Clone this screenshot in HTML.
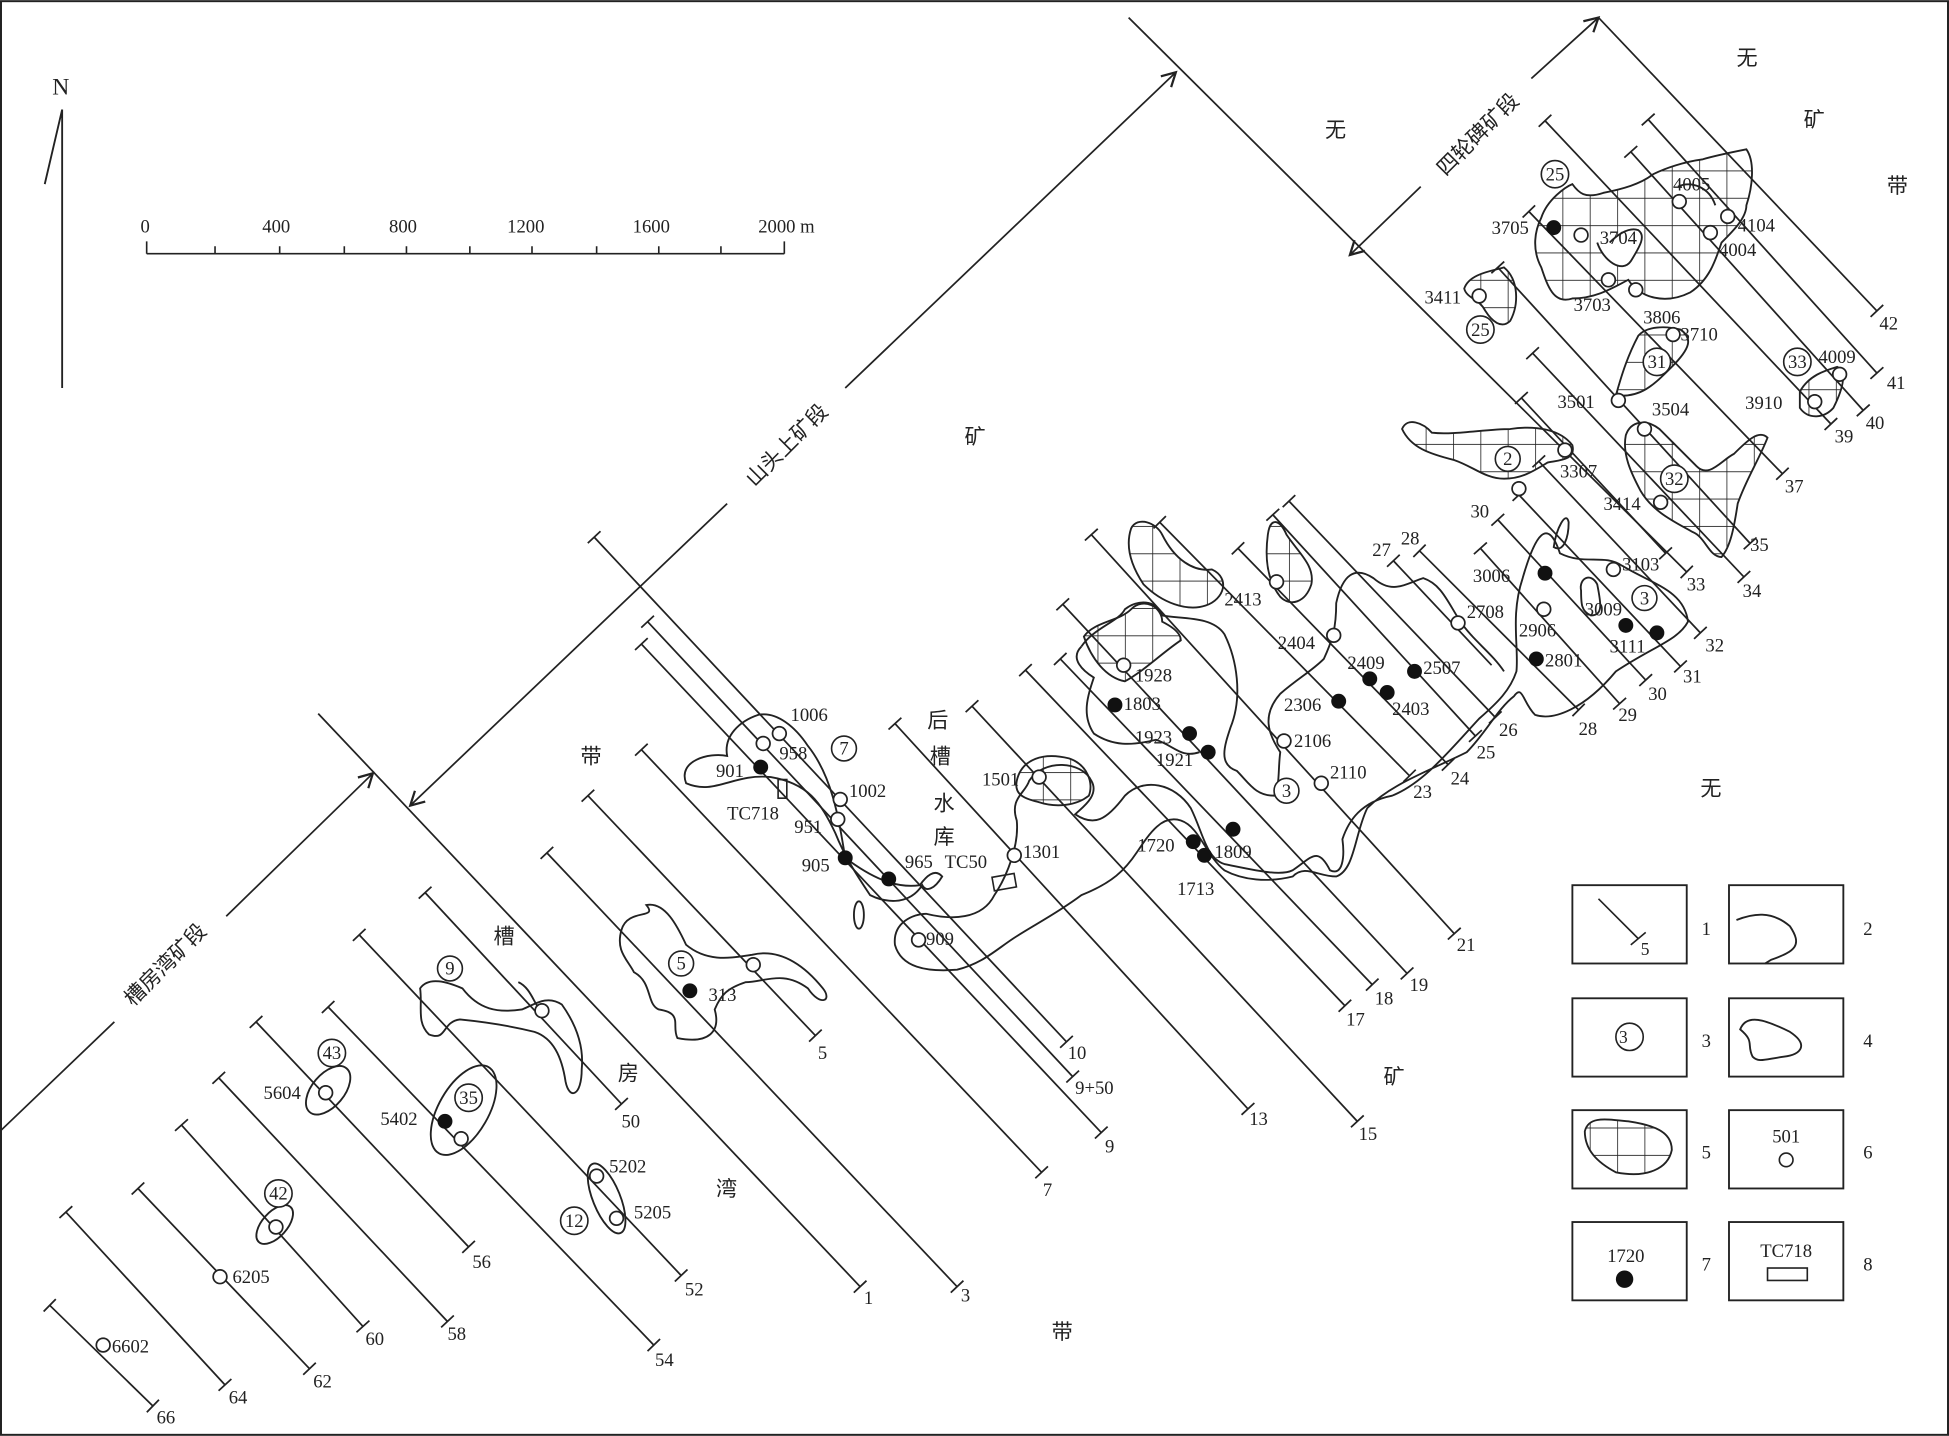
<!DOCTYPE html>
<html><head><meta charset="utf-8"><style>
html,body{margin:0;padding:0;background:#fff}
svg{display:block}
text{font-family:"Liberation Serif","Noto Serif CJK SC",serif;font-size:15px;fill:#222}
.cn{font-family:"Liberation Sans","Noto Sans CJK SC",sans-serif;font-size:17px}
</style></head><body>
<svg width="1949" height="1436" viewBox="0 0 1568 1155" xmlns="http://www.w3.org/2000/svg">
<defs>
<marker id="t" markerUnits="userSpaceOnUse" markerWidth="16" markerHeight="16" viewBox="-8 -8 16 16" refX="0" refY="0" orient="auto"><path d="M0,-7 L0,7" stroke="#222" stroke-width="1.4"/></marker>
<marker id="a" markerUnits="userSpaceOnUse" markerWidth="20" markerHeight="20" viewBox="-12 -10 20 20" refX="0" refY="0" orient="auto"><path d="M-11,-6 L0,0 L-11,6" fill="none" stroke="#222" stroke-width="1.8"/></marker>
<pattern id="g" patternUnits="userSpaceOnUse" width="22" height="22" x="3" y="5"><path d="M0,0 H22 M0,0 V22" stroke="#222" stroke-width="1.3" fill="none"/></pattern>
</defs>
<rect x="0.8" y="0.8" width="1566.4" height="1153.4" fill="#fff" stroke="#222" stroke-width="1.6"/>

<!-- north arrow -->
<g stroke="#222" stroke-width="1.5" fill="none">
<path d="M50,88 V312 M50,88 L36,148"/>
</g>
<text x="42" y="76" style="font-size:19px">N</text>

<!-- scale bar -->
<g stroke="#222" stroke-width="1.3" fill="none">
<path d="M118,204 H631 M118,204 V194 M173,204 V198 M225,204 V198 M277,204 V198 M327,204 V198 M378,204 V198 M428,204 V198 M480,204 V198 M530,204 V198 M580,204 V198 M631,204 V194"/>
</g>
<text x="113" y="187">0</text><text x="211" y="187">400</text><text x="313" y="187">800</text>
<text x="408" y="187">1200</text><text x="509" y="187">1600</text><text x="610" y="187">2000 m</text>

<!-- exploration lines -->
<g stroke="#222" stroke-width="1.4" fill="none" marker-start="url(#t)" marker-end="url(#t)">
<path d="M40,1050 L123,1131"/>
<path d="M53,975 L181,1114"/>
<path d="M111,956 L249,1101"/>
<path d="M146,905 L292,1067"/>
<path d="M176,867 L360,1063"/>
<path d="M206,822 L377,1003"/>
<path d="M264,810 L526,1082"/>
<path d="M289,752 L548,1026"/>
<path d="M342,718 L500,888"/>
<path d="M440,686 L770,1035"/>
<path d="M473,640 L656,833"/>
<path d="M516,603 L838,943"/>
<path d="M478,432 L858,838"/>
<path d="M521,500 L863,866"/>
<path d="M516,518 L886,911"/>
<path d="M720,582 L1004,892"/>
<path d="M782,568 L1092,902"/>
<path d="M825,539 L1082,809"/>
<path d="M853,530 L1104,792"/>
<path d="M855,486 L1132,783"/>
<path d="M878,430 L1170,751"/>
<path d="M933,420 L1134,624"/>
<path d="M996,441 L1165,615"/>
<path d="M1024,414 L1187,592"/>
<path d="M1037,403 L1203,577"/>
<path d="M1142,443 L1270,571"/>
<path d="M1191,441 L1303,566"/>
<path d="M1205,418 L1324,547"/>
<path d="M1222,398 L1352,536"/>
<path d="M1238,371 L1368,509"/>
<path d="M1233,284 L1403,464"/>
<path d="M1205,215 L1408,437"/>
<path d="M1230,170 L1434,381"/>
<path d="M1243,97 L1473,341"/>
<path d="M1312,122 L1499,330"/>
<path d="M1326,96 L1510,300"/>
<path d="M1224,320 L1340,445"/>
</g>
<g stroke="#222" stroke-width="1.4" fill="none" marker-end="url(#t)">
<path d="M256,574 L692,1035"/>
<path d="M908,14 L1357,460"/>
<path d="M1286,14 L1510,250"/>
</g>
<g stroke="#222" stroke-width="1.4" fill="none">
<path d="M1121,451 L1200,535" marker-start="url(#t)"/>
</g>

<!-- dimension lines -->
<g stroke="#222" stroke-width="1.4" fill="none">
<path d="M0,910 L92,822"/><path d="M182,737 L300,622" marker-end="url(#a)"/>
<path d="M585,405 L330,648" marker-end="url(#a)"/><path d="M680,312 L946,58" marker-end="url(#a)"/>
<path d="M1143,150 L1086,205" marker-end="url(#a)"/><path d="M1232,63 L1286,14" marker-end="url(#a)"/>
</g>
<text class="cn" transform="translate(137,780) rotate(-45)" text-anchor="middle">槽房湾矿段</text>
<text class="cn" transform="translate(637,362) rotate(-45)" text-anchor="middle">山头上矿段</text>
<text class="cn" transform="translate(1193,112) rotate(-45)" text-anchor="middle">四轮碑矿段</text>

<!-- ore body outlines -->
<g stroke="#222" stroke-width="1.5" fill="none">
<!-- 5 area -->
<path d="M500,748 C505,730 530,740 520,728 C535,725 545,745 552,760 C570,775 590,770 605,768 C630,762 650,780 662,795 C670,805 660,810 650,795 C630,780 615,790 600,790 C585,795 580,800 575,812 C580,830 570,840 545,835 C540,825 550,815 530,812 C520,808 525,790 510,782 C505,772 495,765 500,748Z"/>
<!-- 9 area -->
<path d="M338,795 C345,785 360,790 372,795 C385,812 400,815 420,812 C430,808 440,800 452,808 C462,822 470,840 468,860 C468,882 458,885 455,870 C452,850 445,835 430,830 C410,825 390,822 370,820 C355,822 360,838 345,832 C335,822 340,810 338,795Z"/>
<path d="M417,790 C428,795 430,810 436,813"/>
<ellipse cx="373" cy="893" rx="20" ry="40" transform="rotate(30 373 893)"/>
<ellipse cx="264" cy="877" rx="13" ry="23" transform="rotate(40 264 877)"/>
<ellipse cx="221" cy="985" rx="10" ry="19" transform="rotate(42 221 985)"/>
<ellipse cx="488" cy="964" rx="11" ry="30" transform="rotate(-22 488 964)"/>
<!-- 901 blob -->
<path d="M552,630 C545,612 570,605 585,608 C582,592 595,580 610,575 C625,572 640,585 650,600 C670,625 675,660 680,690 C700,705 720,715 740,712 C745,705 752,698 758,705 C752,715 745,718 742,712 C730,730 710,725 700,720 C690,705 680,690 672,670 C660,645 650,630 620,625 C590,622 575,640 552,630Z"/>
<ellipse cx="691" cy="736" rx="4" ry="11"/>
<!-- long middle blob -->
<path d="M720,760 C718,742 735,735 745,735 C765,740 790,740 800,720 C810,705 820,680 818,660 C812,642 825,638 828,628 C840,610 870,612 878,628 C885,640 870,650 865,655 C880,665 890,660 905,640 C920,625 945,630 958,650 C968,670 970,690 985,695 C1010,700 1030,705 1040,700 C1055,690 1060,680 1070,700 C1080,705 1082,690 1080,675 C1085,660 1095,645 1120,640 C1145,630 1165,605 1190,578 C1205,565 1215,555 1220,540 C1222,520 1215,495 1225,465 C1235,430 1245,415 1255,445 C1275,455 1290,445 1305,455 C1330,470 1355,475 1358,500 C1350,515 1330,520 1300,540 C1275,570 1250,580 1235,575 C1225,565 1225,550 1218,560 C1205,570 1195,590 1180,605 C1150,620 1120,630 1100,650 C1090,670 1090,700 1075,705 C1060,705 1050,695 1040,705 C1020,710 1000,708 985,700 C970,688 965,665 950,660 C935,655 925,670 915,685 C905,700 895,710 870,720 C850,735 830,745 815,755 C800,765 790,775 770,780 C745,782 725,778 720,760Z"/>
<path d="M870,520 C880,505 900,500 905,490 C915,482 930,482 935,495 C950,498 975,495 985,510 C995,530 1000,560 990,585 C985,600 980,615 995,620 C1005,630 1010,640 1025,640 C1030,630 1028,620 1030,605 C1020,590 1015,575 1030,558 C1045,545 1055,540 1065,530 C1072,515 1075,505 1075,485 C1080,462 1090,455 1105,465 C1120,478 1130,470 1145,465 C1160,470 1165,485 1175,500 C1185,515 1200,525 1210,540"/>
<path d="M870,520 C860,530 872,540 880,545 C875,560 870,575 880,590 C895,600 910,600 930,595 C945,600 950,610 965,605"/>
<path d="M1272,475 C1270,465 1280,460 1285,470 C1288,485 1290,495 1280,495 C1272,492 1272,485 1272,475Z"/>
<path d="M1250,440 C1252,425 1260,410 1262,420 C1262,432 1258,445 1250,440Z"/>
<!-- hatched blobs -->
<g fill="url(#g)">
<path d="M910,425 C915,415 930,420 935,430 C945,450 960,460 975,458 C990,465 985,482 970,487 C955,492 935,485 920,470 C910,455 905,440 910,425Z"/>
<path d="M872,512 C880,500 900,500 910,490 C920,480 935,488 935,500 C945,505 950,510 950,515 C935,525 920,540 905,548 C890,545 878,530 872,512Z"/>
<path d="M818,628 C822,610 840,605 860,610 C875,615 880,630 876,640 C866,648 850,650 835,645 C822,642 816,638 818,628Z"/>
<path d="M1020,430 C1022,415 1030,418 1035,430 C1045,445 1058,455 1055,470 C1050,485 1038,488 1030,480 C1018,465 1018,445 1020,430Z"/>
<path d="M1128,345 C1132,335 1145,340 1152,348 C1170,350 1195,345 1215,345 C1235,342 1255,345 1265,358 C1268,370 1255,370 1245,372 C1235,378 1225,385 1210,385 C1195,385 1185,375 1170,370 C1150,365 1135,360 1128,345Z"/>
<path d="M1178,232 C1182,220 1200,218 1210,215 C1222,225 1222,245 1215,258 C1208,265 1200,258 1195,250 C1190,240 1180,240 1178,232Z"/>
<path d="M1300,318 C1305,300 1310,285 1318,270 C1325,262 1340,262 1352,265 C1362,272 1360,280 1345,295 C1330,310 1320,320 1300,318Z"/>
<path d="M1308,350 C1312,338 1325,337 1335,345 C1345,355 1355,365 1365,375 C1375,385 1385,370 1395,365 C1405,355 1415,345 1422,352 C1415,370 1405,385 1398,405 C1395,425 1392,440 1385,448 C1375,448 1372,432 1362,428 C1348,420 1330,412 1320,395 C1312,380 1305,365 1308,350Z"/>
<path d="M1448,315 C1455,302 1468,298 1478,295 C1488,300 1480,318 1475,328 C1468,336 1455,338 1448,328Z"/>
<path d="M1240,175 C1245,160 1260,150 1265,148 C1270,155 1275,160 1290,155 C1305,152 1320,148 1330,140 C1340,135 1355,130 1370,128 C1380,125 1395,122 1405,120 C1412,130 1410,150 1405,165 C1405,175 1395,185 1385,195 C1380,210 1375,225 1360,235 C1340,245 1320,240 1310,225 C1300,230 1285,240 1265,240 C1250,245 1245,230 1240,215 C1232,200 1235,185 1240,175Z"/>
</g>
<path d="M1285,195 C1290,210 1305,220 1312,210 C1318,200 1325,190 1318,185 C1310,182 1300,190 1295,195" fill="#fff"/>
<path d="M1350,150 C1360,145 1375,150 1380,165" />
</g>

<!-- TC rects -->
<g stroke="#222" stroke-width="1.3" fill="none">
<rect x="626" y="627" width="7" height="15"/>
<rect x="799" y="704" width="18" height="11" transform="rotate(-10 808 710)"/>
</g>

<!-- open circles -->
<g stroke="#222" stroke-width="1.4" fill="#fff">
<circle cx="627" cy="590" r="5.5"/><circle cx="614" cy="598" r="5.5"/><circle cx="676" cy="643" r="5.5"/><circle cx="674" cy="659" r="5.5"/>
<circle cx="739" cy="756" r="5.5"/><circle cx="816" cy="688" r="5.5"/><circle cx="836" cy="625" r="5.5"/><circle cx="904" cy="535" r="5.5"/>
<circle cx="1033" cy="596" r="5.5"/><circle cx="1063" cy="630" r="5.5"/><circle cx="1073" cy="511" r="5.5"/><circle cx="1173" cy="501" r="5.5"/>
<circle cx="1027" cy="468" r="5.5"/><circle cx="1242" cy="490" r="5.5"/><circle cx="1298" cy="458" r="5.5"/><circle cx="1259" cy="362" r="5.5"/>
<circle cx="1222" cy="393" r="5.5"/><circle cx="1336" cy="404" r="5.5"/><circle cx="1323" cy="345" r="5.5"/><circle cx="1302" cy="322" r="5.5"/>
<circle cx="1346" cy="269" r="5.5"/><circle cx="1190" cy="238" r="5.5"/><circle cx="1294" cy="225" r="5.5"/><circle cx="1272" cy="189" r="5.5"/>
<circle cx="1316" cy="233" r="5.5"/><circle cx="1351" cy="162" r="5.5"/><circle cx="1390" cy="174" r="5.5"/><circle cx="1376" cy="187" r="5.5"/>
<circle cx="1480" cy="301" r="5.5"/><circle cx="1460" cy="323" r="5.5"/><circle cx="606" cy="776" r="5.5"/><circle cx="436" cy="813" r="5.5"/>
<circle cx="262" cy="879" r="5.5"/><circle cx="371" cy="916" r="5.5"/><circle cx="480" cy="946" r="5.5"/><circle cx="496" cy="980" r="5.5"/>
<circle cx="222" cy="987" r="5.5"/><circle cx="177" cy="1027" r="5.5"/><circle cx="83" cy="1082" r="5.5"/>
</g>
<!-- filled -->
<g fill="#111">
<circle cx="612" cy="617" r="6"/><circle cx="680" cy="690" r="6"/><circle cx="715" cy="707" r="6"/><circle cx="897" cy="567" r="6"/>
<circle cx="957" cy="590" r="6"/><circle cx="972" cy="605" r="6"/><circle cx="960" cy="677" r="6"/><circle cx="969" cy="688" r="6"/>
<circle cx="992" cy="667" r="6"/><circle cx="1077" cy="564" r="6"/><circle cx="1102" cy="546" r="6"/><circle cx="1116" cy="557" r="6"/>
<circle cx="1138" cy="540" r="6"/><circle cx="1243" cy="461" r="6"/><circle cx="1236" cy="530" r="6"/><circle cx="1308" cy="503" r="6"/>
<circle cx="1333" cy="509" r="6"/><circle cx="1250" cy="183" r="6"/><circle cx="555" cy="797" r="6"/><circle cx="358" cy="902" r="6"/>
</g>
<!-- circled numbers -->
<g stroke="#222" stroke-width="1.3" fill="#fff">
<circle cx="679" cy="602" r="10"/><circle cx="1035" cy="636" r="10"/><circle cx="1323" cy="481" r="10"/><circle cx="1213" cy="369" r="10"/>
<circle cx="1347" cy="385" r="11"/><circle cx="1333" cy="291" r="11"/><circle cx="1191" cy="265" r="11"/><circle cx="1251" cy="140" r="11"/>
<circle cx="1446" cy="291" r="11"/><circle cx="548" cy="775" r="10"/><circle cx="362" cy="779" r="10"/><circle cx="267" cy="847" r="11"/>
<circle cx="377" cy="883" r="11"/><circle cx="462" cy="982" r="11"/><circle cx="224" cy="960" r="11"/>
</g>
<g text-anchor="middle" style="font-size:14px">
<text x="679" y="607">7</text><text x="1035" y="641">3</text><text x="1323" y="486">3</text><text x="1213" y="374">2</text>
<text x="1347" y="390">32</text><text x="1333" y="296">31</text><text x="1191" y="270">25</text><text x="1251" y="145">25</text>
<text x="1446" y="296">33</text><text x="548" y="780">5</text><text x="362" y="784">9</text><text x="267" y="852">43</text>
<text x="377" y="888">35</text><text x="462" y="987">12</text><text x="224" y="965">42</text>
</g>

<!-- point labels -->
<text x="636" y="580">1006</text><text x="627" y="611">958</text><text x="576" y="625">901</text><text x="585" y="659">TC718</text>
<text x="683" y="641">1002</text><text x="639" y="670">951</text><text x="645" y="701">905</text><text x="728" y="698">965</text>
<text x="760" y="698">TC50</text><text x="745" y="760">909</text><text x="823" y="690">1301</text><text x="790" y="632">1501</text>
<text x="913" y="548">1928</text><text x="904" y="571">1803</text><text x="913" y="598">1923</text><text x="930" y="616">1921</text>
<text x="915" y="685">1720</text><text x="977" y="690">1809</text><text x="947" y="720">1713</text><text x="1041" y="601">2106</text>
<text x="1070" y="626">2110</text><text x="1033" y="572">2306</text><text x="1028" y="522">2404</text><text x="1084" y="538">2409</text>
<text x="1120" y="575">2403</text><text x="1145" y="542">2507</text><text x="1180" y="497">2708</text><text x="985" y="487">2413</text>
<text x="1185" y="468">3006</text><text x="1222" y="512">2906</text><text x="1243" y="536">2801</text><text x="1275" y="495">3009</text>
<text x="1295" y="525">3111</text><text x="1305" y="459">3103</text><text x="1255" y="384">3307</text><text x="1290" y="410">3414</text>
<text x="1329" y="334">3504</text><text x="1253" y="328">3501</text><text x="1352" y="274">3710</text><text x="1322" y="260">3806</text>
<text x="1146" y="244">3411</text><text x="1266" y="250">3703</text><text x="1200" y="188">3705</text><text x="1287" y="196">3704</text>
<text x="1346" y="153">4005</text><text x="1398" y="186">4104</text><text x="1383" y="206">4004</text><text x="1463" y="292">4009</text>
<text x="1404" y="329">3910</text><text x="1183" y="416">30</text><text x="1104" y="447">27</text><text x="1127" y="438">28</text>
<text x="570" y="805">313</text><text x="212" y="884">5604</text><text x="306" y="905">5402</text><text x="490" y="943">5202</text>
<text x="510" y="980">5205</text><text x="187" y="1032">6205</text><text x="90" y="1088">6602</text>

<!-- line end labels -->
<text x="126" y="1145">66</text><text x="184" y="1129">64</text><text x="252" y="1116">62</text><text x="294" y="1082">60</text>
<text x="360" y="1078">58</text><text x="380" y="1020">56</text><text x="527" y="1099">54</text><text x="551" y="1042">52</text>
<text x="500" y="907">50</text><text x="658" y="852">5</text><text x="695" y="1049">1</text><text x="773" y="1047">3</text>
<text x="839" y="962">7</text><text x="859" y="852">10</text><text x="865" y="880">9+50</text><text x="889" y="927">9</text>
<text x="1005" y="905">13</text><text x="1093" y="917">15</text><text x="1083" y="825">17</text><text x="1106" y="808">18</text>
<text x="1134" y="797">19</text><text x="1172" y="765">21</text><text x="1137" y="642">23</text><text x="1167" y="631">24</text>
<text x="1188" y="610">25</text><text x="1206" y="592">26</text><text x="1270" y="591">28</text><text x="1302" y="580">29</text>
<text x="1326" y="563">30</text><text x="1354" y="549">31</text><text x="1372" y="524">32</text><text x="1357" y="475">33</text>
<text x="1402" y="480">34</text><text x="1408" y="443">35</text><text x="1436" y="396">37</text><text x="1476" y="356">39</text>
<text x="1501" y="345">40</text><text x="1518" y="313">41</text><text x="1512" y="265">42</text>

<!-- region chinese labels -->
<g class="cn">
<text class="cn" x="1066" y="110">无</text><text class="cn" x="1397" y="52">无</text><text class="cn" x="1451" y="102">矿</text>
<text class="cn" x="1518" y="155">带</text><text class="cn" x="776" y="357">矿</text><text class="cn" x="467" y="614">带</text>
<text class="cn" x="746" y="585">后</text><text class="cn" x="748" y="614">槽</text><text class="cn" x="751" y="652">水</text>
<text class="cn" x="751" y="679">库</text><text class="cn" x="397" y="759">槽</text><text class="cn" x="497" y="869">房</text>
<text class="cn" x="576" y="962">湾</text><text class="cn" x="846" y="1077">带</text><text class="cn" x="1113" y="872">矿</text>
<text class="cn" x="1368" y="640">无</text>
</g>

<!-- legend -->
<g stroke="#222" stroke-width="1.5" fill="none">
<rect x="1265" y="712" width="92" height="63"/><rect x="1391" y="712" width="92" height="63"/>
<rect x="1265" y="803" width="92" height="63"/><rect x="1391" y="803" width="92" height="63"/>
<rect x="1265" y="893" width="92" height="63"/><rect x="1391" y="893" width="92" height="63"/>
<rect x="1265" y="983" width="92" height="63"/><rect x="1391" y="983" width="92" height="63"/>
<path d="M1286,723 L1318,755 M1312,760 L1324,750" stroke-width="1.3"/>
<path d="M1397,740 C1410,735 1425,732 1440,745 C1450,760 1445,765 1425,772 L1420,775"/>
<circle cx="1311" cy="834" r="11" stroke-width="1.3"/>
<path d="M1400,828 C1405,815 1420,820 1440,830 C1455,840 1450,848 1435,850 C1420,852 1415,855 1410,850 C1405,840 1412,838 1400,828Z"/>
<path d="M1275,910 C1278,898 1290,900 1310,902 C1330,905 1345,910 1345,925 C1342,940 1325,948 1300,943 C1285,935 1275,925 1275,910Z" fill="url(#g)"/>
<circle cx="1437" cy="933" r="5.5" stroke-width="1.3"/>
<rect x="1422" y="1020" width="32" height="10" stroke-width="1.3"/>
</g>
<circle cx="1307" cy="1029" r="7" fill="#111"/>
<text x="1320" y="768" style="font-size:14px">5</text>
<text x="1306" y="839" text-anchor="middle" style="font-size:14px">3</text>
<text x="1437" y="919" text-anchor="middle">501</text>
<text x="1308" y="1015" text-anchor="middle">1720</text>
<text x="1437" y="1011" text-anchor="middle">TC718</text>
<text x="1369" y="752">1</text><text x="1499" y="752">2</text>
<text x="1369" y="842">3</text><text x="1499" y="842">4</text>
<text x="1369" y="932">5</text><text x="1499" y="932">6</text>
<text x="1369" y="1022">7</text><text x="1499" y="1022">8</text>
</svg>
</body></html>
